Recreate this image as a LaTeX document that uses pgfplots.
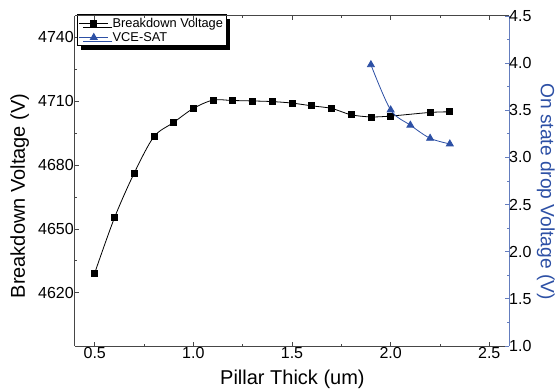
\documentclass[border=0pt]{standalone}
\usepackage{pgfplots}
\pgfplotsset{compat=1.18}
\usetikzlibrary{shadows}
\usepackage{fontspec}
\setmainfont{Liberation Sans}
\definecolor{vblue}{RGB}{45,80,165}
\definecolor{axblue}{RGB}{100,125,190}
\definecolor{axgray}{RGB}{70,70,70}
\begin{document}
\begin{tikzpicture}
\useasboundingbox (-75pt,-43pt) rectangle (482pt,346pt);
\begin{axis}[
  scale only axis, width=434pt, height=330pt,
  xmin=0.4, xmax=2.6, ymin=4595, ymax=4750,
  axis x line*=bottom, axis y line*=left,
  axis line style={draw=axgray, line width=1pt},
  tick style={draw=axgray, line width=0.8pt},
  tick align=inside,
  major tick length=4pt, minor tick length=2.5pt,
  xtick={0.5,1.0,1.5,2.0,2.5}, minor x tick num=1,
  ytick={4620,4650,4680,4710,4740}, minor y tick num=1,
  /pgf/number format/assume math mode=true,
  xticklabel style={/pgf/number format/fixed, /pgf/number format/fixed zerofill, /pgf/number format/precision=1},
  yticklabel style={/pgf/number format/1000 sep={}},
  tick label style={font=\fontsize{16}{18}\selectfont, text=black},
  every x tick label/.append style={inner sep=0pt, yshift=-1.5pt},
  every y tick label/.append style={inner sep=0pt, xshift=-1pt},
  xlabel={Pillar Thick (um)},
  ylabel={Breakdown Voltage (V)},
  every axis x label/.style={at={(axis description cs:0.501,-0.118)}, anchor=base, font=\fontsize{20}{24}\selectfont},
  every axis y label/.style={at={(axis description cs:-0.1152,0.4545)}, rotate=90, anchor=base, font=\fontsize{20}{24}\selectfont},
  legend style={at={(axis description cs:0.0046,1.005)}, anchor=north west,
    draw=black, line width=0.8pt, fill=white,
    drop shadow={shadow xshift=4pt, shadow yshift=-4pt, fill=black, opacity=1},
    font=\fontsize{12.8}{15}\selectfont, inner sep=1.5pt, row sep=0.8pt,
    nodes={inner sep=1.5pt},
    /tikz/every odd column/.append style={column sep=2.5pt}},
  legend cell align=left,
  legend image code/.code={\draw[mark repeat=2,mark phase=2,#1] plot coordinates {(0pt,0pt) (14.5pt,0pt) (29pt,0pt)};},
]
\addplot[black, line width=0.8pt, smooth, tension=0.5, mark=square*, mark size=3pt, mark options={solid}] coordinates {
(0.5,4629.3) (0.6,4655.2) (0.7,4676.2) (0.8,4693.3) (0.9,4700.0) (1.0,4706.6) (1.1,4710.5) (1.2,4710.3) (1.3,4710.1) (1.4,4709.8) (1.5,4709.1) (1.6,4707.8) (1.7,4706.6) (1.8,4703.6) (1.9,4702.6) (2.0,4703.0) (2.2,4704.7) (2.3,4705.0)};
\addlegendentry{Breakdown Voltage}
\addlegendimage{vblue, line width=0.8pt, mark=triangle*, mark size=4pt}
\addlegendentry{VCE-SAT}
\end{axis}
\begin{axis}[
  scale only axis, width=434pt, height=330pt,
  xmin=0.4, xmax=2.6, ymin=1, ymax=4.5,
  axis x line*=top, axis y line*=right,
  x axis line style={draw=axgray, line width=1pt},
  y axis line style={draw=axblue, line width=1pt},
  xtick style={draw=axgray, line width=0.8pt},
  ytick style={draw=axblue, line width=0.8pt},
  tick align=inside,
  major tick length=4pt, minor tick length=2.5pt,
  xtick={0.5,1.0,1.5,2.0,2.5}, minor x tick num=1, xticklabels={},
  ytick={1,1.5,2,2.5,3,3.5,4,4.5}, minor y tick num=1,
  /pgf/number format/assume math mode=true,
  yticklabel style={/pgf/number format/fixed, /pgf/number format/fixed zerofill, /pgf/number format/precision=1},
  tick label style={font=\fontsize{16}{18}\selectfont, text=black},
  every y tick label/.append style={inner sep=0pt, xshift=0pt},
  ylabel={On state drop Voltage (V)},
  every axis y label/.style={at={(axis description cs:1.0737,0.468)}, rotate=-90, anchor=base, font=\fontsize{19.2}{23}\selectfont, text=vblue},
]
\addplot[vblue, line width=0.8pt, smooth, tension=0.5, mark=triangle*, mark size=4pt, mark options={solid}] coordinates {
(1.9,3.983) (2.0,3.504) (2.1,3.342) (2.2,3.203) (2.3,3.143)};
\end{axis}
\end{tikzpicture}
\end{document}
